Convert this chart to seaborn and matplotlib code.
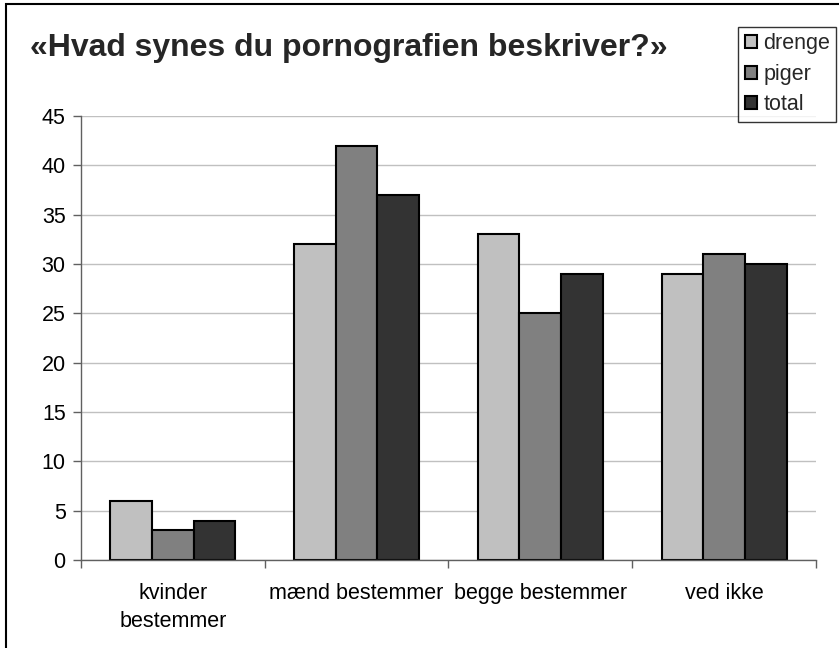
import pandas as pd
import numpy as np
import matplotlib
matplotlib.use('Agg')
import matplotlib.pyplot as plt
from matplotlib.patches import Rectangle
import seaborn as sns

# data
kategorier = ['kvinder\nbestemmer', 'mænd bestemmer', 'begge bestemmer', 'ved ikke']
serier = ['drenge', 'piger', 'total']
drenge = [6, 32, 33, 29]
piger = [3, 42, 25, 31]
total = [4, 37, 29, 30]
farver = ['#c0c0c0', '#808080', '#333333']

df = pd.DataFrame({
    'kategori': kategorier * 3,
    'serie': np.repeat(serier, len(kategorier)),
    'værdi': drenge + piger + total,
})

sns.set_style('white')
plt.rcParams['font.family'] = ['Liberation Sans', 'DejaVu Sans']

fig = plt.figure(figsize=(8.39, 6.48), dpi=100)
ax = fig.add_axes([0.0965, 0.1358, 0.876, 0.6852])

sns.barplot(data=df, x='kategori', y='værdi', hue='serie', palette=farver,
            width=0.68, gap=0, edgecolor='black', linewidth=1.5,
            saturation=1, ax=ax, legend=True)

# axes styling (Excel look)
ax.set_ylim(0, 45)
ax.set_xlim(-0.5, 3.5)
ax.set_yticks(np.arange(0, 46, 5))
ax.yaxis.grid(True, color='#c0c0c0', linewidth=1)
ax.set_axisbelow(True)
for s in ['top', 'right']:
    ax.spines[s].set_visible(False)
for s in ['left', 'bottom']:
    ax.spines[s].set_color('#606060')
    ax.spines[s].set_linewidth(1)
ax.set_xlabel('')
ax.set_ylabel('')
ax.tick_params(axis='y', which='major', left=True, length=6, width=1,
               color='#606060', labelsize=15.5, pad=5, labelcolor='black')
ax.tick_params(axis='x', which='major', bottom=False, labelsize=15.5, pad=13,
               labelcolor='black')
ax.set_xticks(np.arange(-0.5, 4, 1), minor=True)
ax.tick_params(axis='x', which='minor', bottom=True, length=6, width=1,
               color='#606060')
for lab in ax.get_xticklabels():
    lab.set_linespacing(1.45)

# legend
leg = ax.legend(loc='upper right', bbox_to_anchor=(0.997, 0.959),
                bbox_transform=fig.transFigure, frameon=True, fancybox=False,
                fontsize=15.5, handlelength=0.55, handleheight=0.55,
                handletextpad=0.3, borderpad=0.3, labelspacing=0.45,
                borderaxespad=0)
leg.get_frame().set_edgecolor('black')
leg.get_frame().set_linewidth(1)

# title
fig.text(0.036, 0.926, '«Hvad synes du pornografien beskriver?»',
         fontsize=23, fontweight='bold', va='center', ha='left')

# outer frame (only top and left visible in the crop)
fig.patches.append(Rectangle((6 / 839, -0.1), 1.2, 1.1 - 4.5 / 648,
                             transform=fig.transFigure, fill=False,
                             edgecolor='black', linewidth=1.5))

fig.savefig('out.png', dpi=100)
